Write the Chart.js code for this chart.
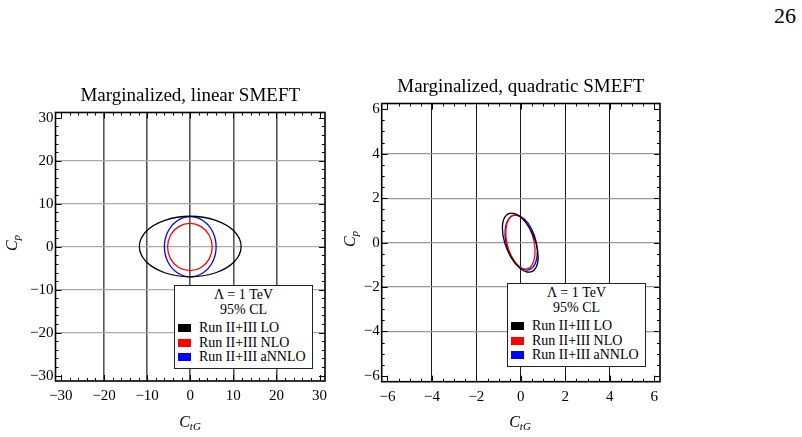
<!DOCTYPE html>
<html>
<head>
<meta charset="utf-8">
<script src="https://cdn.jsdelivr.net/npm/chart.js@4.4.1/dist/chart.umd.min.js"></script>
<style>
  body { margin: 0; background: #fff; }
  #page { position: relative; width: 802px; height: 437px; overflow: hidden; font-family: "Liberation Serif", serif; color: #000; }
  canvas { position: absolute; }
  .lbl { position: absolute; font-style: italic; font-size: 16px; line-height: 18px; white-space: nowrap; transform: translate(-50%, -50%); }
  .lbl sub { font-size: 11px; vertical-align: -3px; line-height: 0; }
  .rot { transform: translate(-50%, -50%) rotate(-90deg); }
  .legend { position: absolute; box-sizing: border-box; width: 139px; height: 84px; border: 1px solid #222; background: #fff; font-size: 14px; padding-top: 2px; }
  .legend .hd { text-align: center; line-height: 14.5px; }
  .legend .items { margin-top: 4px; }
  .legend .it { position: relative; line-height: 14.5px; padding-left: 24px; white-space: nowrap; }
  .legend .sw { position: absolute; left: 3px; top: 3px; width: 13px; height: 8px; }
  #pgno { position: absolute; right: 6px; top: 5px; font-size: 22px; line-height: 22px; }
</style>
</head>
<body>
<div id="page">
  <div id="pgno">26</div>
  <canvas id="linChart" width="340" height="367" style="left:0px; top:70px;"></canvas>
  <canvas id="quadChart" width="340" height="376" style="left:340px; top:61px;"></canvas>
  <div class="lbl rot" style="left:12px; top:243px;"><i>C</i><sub>p</sub></div>
  <div class="lbl" style="left:190px; top:422px;"><i>C</i><sub>tG</sub></div>
  <div class="lbl rot" style="left:350px; top:239px;"><i>C</i><sub>p</sub></div>
  <div class="lbl" style="left:520px; top:422px;"><i>C</i><sub>tG</sub></div>
  <div class="legend" id="linLegend" style="left:174px; top:285px;"></div>
  <div class="legend" id="quadLegend" style="left:507px; top:283px;"></div>
</div>
<script>
// series
var seriesNames = ['Run II+III LO', 'Run II+III NLO', 'Run II+III aNNLO'];
var seriesColors = ['#000000', '#ff0000', '#0000ff'];
var legendHeader = ['\u039b = 1 TeV', '95% CL'];

// tick labels
var linTicks = [-30, -20, -10, 0, 10, 20, 30];
var quadTicks = [-6, -4, -2, 0, 2, 4, 6];

// 95% CL contours, linear SMEFT (C_tG, C_p)
var linLO_ctg = [11.8, 10.2, 5.9, 0, -5.9, -10.2, -11.8, -10.2, -5.9, 0, 5.9, 10.2];
var linLO_cp = [0.05, 3.6, 6.15, 7.1, 6.15, 3.6, 0.05, -3.5, -6.05, -7.0, -6.05, -3.5];
var linNLO_ctg = [5.1, 4.4, 2.51, -0.08, -2.67, -4.57, -5.26, -4.57, -2.67, -0.08, 2.51, 4.4];
var linNLO_cp = [-0.07, 2.68, 4.69, 5.43, 4.69, 2.68, -0.07, -2.82, -4.83, -5.57, -4.83, -2.82];
var linNNLO_ctg = [6.0, 5.2, 3.0, 0, -3.0, -5.2, -6.0, -5.2, -3.0, 0, 3.0, 5.2];
var linNNLO_cp = [0, 3.5, 6.06, 7.0, 6.06, 3.5, 0, -3.5, -6.06, -7.0, -6.06, -3.5];

// 95% CL contours, quadratic SMEFT
var quadLO_ctg = [0.68, 0.39, -0.01, -0.42, -0.72, -0.83, -0.73, -0.44, -0.04, 0.37, 0.665, 0.78];
var quadLO_cp = [0, 0.665, 1.15, 1.33, 1.15, 0.665, 0, -0.665, -1.15, -1.33, -1.15, -0.665];
var quadNLO_ctg = [0.60, 0.395, 0.08, -0.26, -0.53, -0.67, -0.64, -0.435, -0.12, 0.22, 0.49, 0.63];
var quadNLO_cp = [0.03, 0.64, 1.09, 1.25, 1.09, 0.64, 0.03, -0.58, -1.03, -1.19, -1.03, -0.58];
var quadNNLO_ctg = [0.70, 0.48, 0.14, -0.23, -0.54, -0.70, -0.67, -0.45, -0.11, 0.26, 0.57, 0.73];
var quadNNLO_cp = [0, 0.62, 1.07, 1.235, 1.07, 0.62, 0, -0.62, -1.07, -1.235, -1.07, -0.62];

Chart.defaults.font.family = "'Liberation Serif', serif";
Chart.defaults.color = '#000';

function pts(xs, ys) {
  return xs.map(function (x, i) { return {x: x, y: ys[i]}; });
}

function fmt(v) {
  return v < 0 ? '\u2212' + Math.abs(v) : String(v);
}

// close the contour lines smoothly
var closeLoop = {
  id: 'closeLoop',
  afterDatasetUpdate: function (chart, args) {
    args.meta.dataset._loop = true;
    args.meta.dataset._fullLoop = true;
  }
};

// frame with inward ticks on all four sides
var frameTicks = {
  id: 'frameTicks',
  afterDatasetsDraw: function (chart, args, opts) {
    var ctx = chart.ctx, a = chart.chartArea;
    var xs = chart.scales.x, ys = chart.scales.y;
    ctx.save();
    ctx.strokeStyle = '#000';
    ctx.lineWidth = 1;
    ctx.beginPath();
    xs.ticks.forEach(function (t) {
      var px = Math.round(xs.getPixelForValue(t.value)) + 0.5;
      var len = opts.labels.indexOf(t.value) >= 0 ? 6 : 3;
      ctx.moveTo(px, a.bottom); ctx.lineTo(px, a.bottom - len);
      ctx.moveTo(px, a.top); ctx.lineTo(px, a.top + len);
    });
    ys.ticks.forEach(function (t) {
      var py = Math.round(ys.getPixelForValue(t.value)) + 0.5;
      var len = opts.labels.indexOf(t.value) >= 0 ? 6 : 3;
      ctx.moveTo(a.left, py); ctx.lineTo(a.left + len, py);
      ctx.moveTo(a.right, py); ctx.lineTo(a.right - len, py);
    });
    ctx.stroke();
    ctx.lineWidth = 1.6;
    ctx.strokeRect(a.left, a.top, a.right - a.left, a.bottom - a.top);
    ctx.restore();
  }
};

function makeChart(id, title, xsList, ysList, lim, step, labels, vCol, vWidth, hCol, yWidth, padRight, padBottom) {
  var datasets = seriesNames.map(function (name, i) {
    return {
      label: name,
      data: pts(xsList[i], ysList[i]),
      showLine: true,
      borderColor: seriesColors[i],
      borderWidth: 1.3,
      pointRadius: 0,
      tension: 0.35,
      fill: false
    };
  });
  function inner(v) { return labels.indexOf(v) >= 0 && Math.abs(v) < labels[labels.length - 1]; }
  return new Chart(document.getElementById(id), {
    type: 'scatter',
    data: {datasets: datasets},
    plugins: [closeLoop, frameTicks],
    options: {
      responsive: false,
      animation: false,
      layout: {padding: {top: 14.7, left: 0, right: padRight, bottom: padBottom}},
      plugins: {
        legend: {display: false},
        tooltip: {enabled: false},
        title: {
          display: true,
          text: title,
          fullSize: false,
          color: '#000',
          font: {size: 19, weight: 'normal'},
          padding: {top: 0, bottom: 5}
        },
        frameTicks: {labels: labels}
      },
      scales: {
        x: {
          type: 'linear',
          min: -lim, max: lim,
          border: {display: false},
          grid: {
            drawTicks: false,
            color: function (c) { return c.tick && inner(c.tick.value) ? vCol : 'rgba(0,0,0,0)'; },
            lineWidth: vWidth
          },
          ticks: {
            stepSize: step,
            includeBounds: false,
            autoSkip: false,
            maxRotation: 0, minRotation: 0,
            padding: 6,
            font: {size: 15},
            callback: function (v) { return labels.indexOf(v) >= 0 ? fmt(v) : ''; }
          },
          afterFit: function (s) { s.height = 30; }
        },
        y: {
          type: 'linear',
          min: -lim, max: lim,
          border: {display: false},
          grid: {
            drawTicks: false,
            color: function (c) { return c.tick && inner(c.tick.value) ? hCol : 'rgba(0,0,0,0)'; },
            lineWidth: 1.2
          },
          ticks: {
            stepSize: step,
            includeBounds: false,
            autoSkip: false,
            padding: 2,
            font: {size: 15},
            callback: function (v) { return labels.indexOf(v) >= 0 ? fmt(v) : ''; }
          },
          afterFit: function (s) { s.width = yWidth; }
        }
      }
    }
  });
}

makeChart('linChart', 'Marginalized, linear SMEFT',
  [linLO_ctg, linNLO_ctg, linNNLO_ctg], [linLO_cp, linNLO_cp, linNNLO_cp],
  31.25, 2, linTicks, '#555555', 1.6, '#aaaaaa', 55.5, 15, 26);

makeChart('quadChart', 'Marginalized, quadratic SMEFT',
  [quadLO_ctg, quadNLO_ctg, quadNNLO_ctg], [quadLO_cp, quadNLO_cp, quadNNLO_cp],
  6.26, 0.5, quadTicks, '#1a1a1a', 1, '#999999', 41.7, 20, 25.3);

function buildLegend(id) {
  var box = document.getElementById(id);
  legendHeader.forEach(function (t) {
    var d = document.createElement('div');
    d.className = 'hd';
    d.textContent = t;
    box.appendChild(d);
  });
  var items = document.createElement('div');
  items.className = 'items';
  seriesNames.forEach(function (name, i) {
    var it = document.createElement('div');
    it.className = 'it';
    var sw = document.createElement('span');
    sw.className = 'sw';
    sw.style.background = seriesColors[i];
    it.appendChild(sw);
    it.appendChild(document.createTextNode(name));
    items.appendChild(it);
  });
  box.appendChild(items);
}
buildLegend('linLegend');
buildLegend('quadLegend');
</script>
</body>
</html>
